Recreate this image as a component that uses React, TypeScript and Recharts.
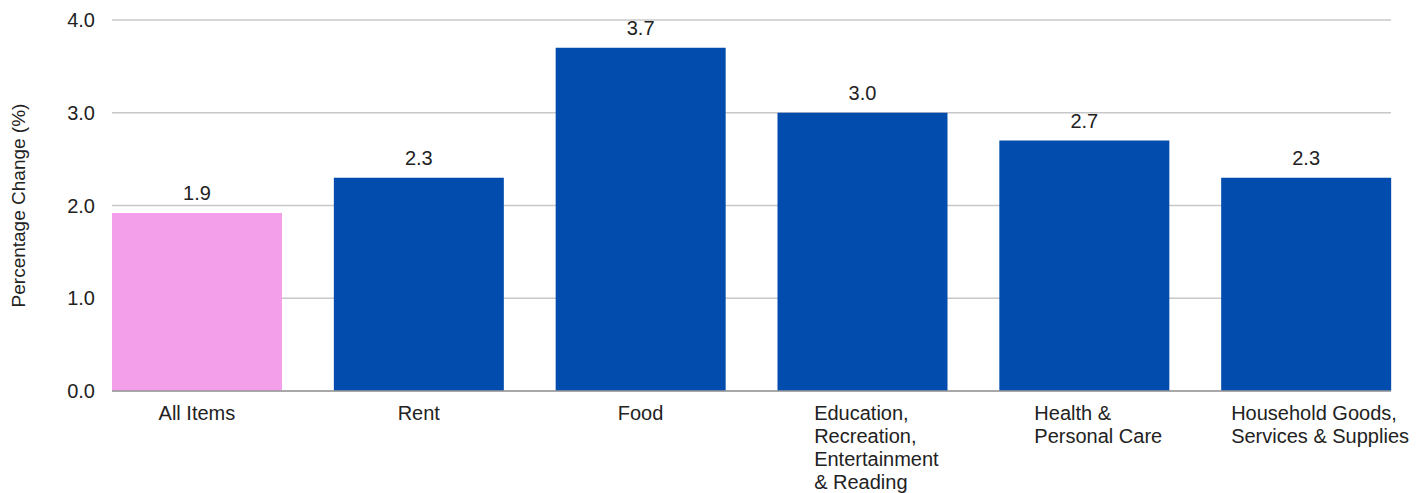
import { BarChart, Bar, XAxis, YAxis, CartesianGrid, Cell, LabelList } from "recharts";

const categories = [
  "All Items",
  "Rent",
  "Food",
  "Education,\nRecreation,\nEntertainment\n& Reading",
  "Health &\nPersonal Care",
  "Household Goods,\nServices & Supplies",
];
const changes = [1.92, 2.3, 3.7, 3.0, 2.7, 2.3];
const yTicks = [0, 1, 2, 3, 4];

const data = categories.map((name, i) => ({ name, value: changes[i] }));

const FONT = '"Liberation Sans", Arial, sans-serif';
const FS = 20;

let ctx: CanvasRenderingContext2D | null = null;
function textWidth(s: string) {
  if (!ctx) ctx = document.createElement("canvas").getContext("2d");
  if (!ctx) return s.length * FS * 0.5;
  ctx.font = `${FS}px ${FONT}`;
  return ctx.measureText(s).width;
}

function CategoryTick(props: any) {
  const { x, y, payload } = props;
  const lines = String(payload.value).split("\n");
  const w = Math.max(...lines.map(textWidth));
  const left = lines.length > 1 ? x - w / 2 + 14 : x - w / 2;
  return (
    <text x={left} y={y} fill="#222" fontSize={FS} fontFamily={FONT} textAnchor="start">
      {lines.map((l, i) => (
        <tspan key={i} x={left} y={y + 29 + i * 23}>
          {l}
        </tspan>
      ))}
    </text>
  );
}

function YTitle(props: any) {
  const vb = props.viewBox;
  const cy = vb.y + vb.height / 2;
  return (
    <text
      x={10}
      y={cy}
      transform={`rotate(-90, 10, ${cy})`}
      textAnchor="middle"
      dominantBaseline="central"
      fontSize={FS - 1}
      fontFamily={FONT}
      fill="#222"
    >
      Percentage Change (%)
    </text>
  );
}

export default function App() {
  return (
    <div style={{ width: 1407, height: 485, fontFamily: FONT }}>
      <BarChart width={1407} height={485} data={data} margin={{ top: 12, right: 24, bottom: 72, left: 0 }}>
        <CartesianGrid vertical={false} stroke="#c8c8c8" strokeWidth={1.5} />
        <XAxis
          dataKey="name"
          interval={0}
          padding={{ left: -26, right: -26 }}
          tickLine={false}
          tickSize={0}
          tickMargin={0}
          axisLine={{ stroke: "#999", strokeWidth: 1.5 }}
          tick={<CategoryTick />}
        />
        <YAxis
          width={104}
          domain={[0, 4]}
          ticks={yTicks}
          tickFormatter={(v: number) => v.toFixed(1)}
          axisLine={false}
          tickLine={false}
          tickSize={0}
          tickMargin={17}
          tick={{ fill: "#222", fontSize: FS, fontFamily: FONT }}
          label={<YTitle />}
        />
        <Bar dataKey="value" barSize={170} isAnimationActive={false}>
          {data.map((d, i) => (
            <Cell key={d.name} fill={i === 0 ? "#f49fea" : "#024cad"} />
          ))}
          <LabelList
            dataKey="value"
            position="top"
            offset={13}
            formatter={(v: any) => Number(v).toFixed(1)}
            style={{ fill: "#222", fontSize: FS, fontFamily: FONT }}
          />
        </Bar>
      </BarChart>
    </div>
  );
}
